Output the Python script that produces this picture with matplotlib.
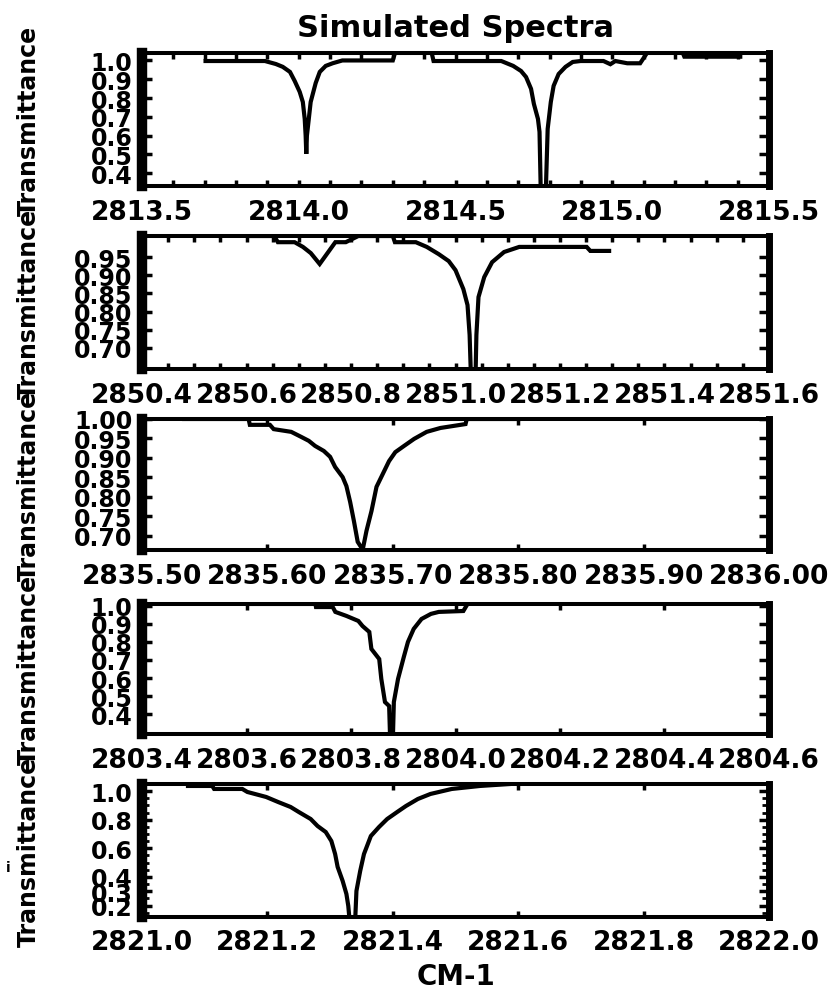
import matplotlib
matplotlib.use("Agg")
import matplotlib.pyplot as plt
from matplotlib.ticker import MultipleLocator

plt.rcParams["font.family"] = ["DejaVu Sans"]
plt.rcParams["font.weight"] = "bold"

# ---- spectrum 1 ----
wn1 = [2813.696, 2813.892, 2813.927, 2813.949, 2813.972, 2813.987, 2814.003,
       2814.013, 2814.019, 2814.022, 2814.024, 2814.026, 2814.032, 2814.038,
       2814.054, 2814.067, 2814.086, 2814.108, 2814.139, 2814.300, 2814.307,
       2814.424, 2814.430, 2814.646, 2814.684, 2814.709, 2814.725, 2814.741,
       2814.750, 2814.763, 2814.768, 2814.772, 2814.788, 2814.794, 2814.804,
       2814.813, 2814.829, 2814.851, 2814.874, 2814.899, 2814.972, 2814.994,
       2815.010, 2815.048, 2815.089, 2815.111, 2815.225, 2815.230, 2815.415]
tr1 = [0.997, 0.997, 0.981, 0.966, 0.939, 0.891, 0.833,
       0.779, 0.689, 0.600, 0.503, 0.600, 0.689, 0.779,
       0.880, 0.939, 0.971, 0.985, 1.000, 1.000, 1.040,
       1.040, 0.997, 0.997, 0.971, 0.944, 0.912, 0.849,
       0.769, 0.689, 0.620, 0.300, 0.300, 0.636, 0.779,
       0.865, 0.928, 0.966, 0.992, 0.997, 0.997, 0.980,
       0.997, 0.985, 0.985, 1.040, 1.040, 1.020, 1.020]
xticks1 = [2813.5, 2814.0, 2814.5, 2815.0, 2815.5]
yticks1 = [1.0, 0.9, 0.8, 0.7, 0.6, 0.5, 0.4]

# ---- spectrum 2 ----
wn2 = [2850.603, 2850.653, 2850.660, 2850.692, 2850.708, 2850.723, 2850.740,
       2850.755, 2850.770, 2850.790, 2850.814, 2850.880, 2850.884, 2850.924,
       2850.945, 2850.968, 2850.987, 2851.000, 2851.015, 2851.023, 2851.027,
       2851.030, 2851.038, 2851.040, 2851.044, 2851.055, 2851.070, 2851.093,
       2851.122, 2851.251, 2851.258, 2851.298]
tr2 = [1.008, 1.008, 0.991, 0.991, 0.978, 0.961, 0.931,
       0.961, 0.991, 0.991, 1.008, 1.008, 0.991, 0.991,
       0.978, 0.958, 0.939, 0.914, 0.862, 0.818, 0.736,
       0.600, 0.600, 0.736, 0.840, 0.895, 0.936, 0.964,
       0.978, 0.978, 0.967, 0.967]
xticks2 = [2850.4, 2850.6, 2850.8, 2851.0, 2851.2, 2851.4, 2851.6]
yticks2 = [0.95, 0.90, 0.85, 0.80, 0.75, 0.70]

# ---- spectrum 3 ----
wn3 = [2835.532, 2835.585, 2835.586, 2835.602, 2835.605, 2835.619, 2835.627,
       2835.633, 2835.638, 2835.645, 2835.650, 2835.654, 2835.660, 2835.663,
       2835.666, 2835.669, 2835.672, 2835.676, 2835.679, 2835.683, 2835.687,
       2835.692, 2835.697, 2835.702, 2835.709, 2835.717, 2835.727, 2835.738,
       2835.758, 2835.759, 2835.802]
tr3 = [1.000, 1.000, 0.985, 0.985, 0.974, 0.967, 0.954,
       0.944, 0.931, 0.918, 0.903, 0.877, 0.851, 0.828,
       0.787, 0.738, 0.685, 0.665, 0.713, 0.764, 0.826,
       0.859, 0.892, 0.915, 0.931, 0.949, 0.967, 0.977,
       0.987, 1.000, 1.000]
xticks3 = [2835.50, 2835.60, 2835.70, 2835.80, 2835.90, 2836.00]
yticks3 = [1.00, 0.95, 0.90, 0.85, 0.80, 0.75, 0.70]

# ---- spectrum 4 ----
wn4 = [2803.603, 2803.732, 2803.733, 2803.765, 2803.770, 2803.791, 2803.814,
       2803.822, 2803.835, 2803.839, 2803.854, 2803.858, 2803.865, 2803.873,
       2803.875, 2803.880, 2803.882, 2803.890, 2803.901, 2803.909, 2803.920,
       2803.935, 2803.953, 2803.968, 2804.015, 2804.023]
tr4 = [1.010, 1.010, 0.993, 0.993, 0.966, 0.944, 0.916,
       0.888, 0.855, 0.761, 0.705, 0.595, 0.467, 0.445,
       0.250, 0.250, 0.467, 0.595, 0.716, 0.800, 0.872,
       0.927, 0.955, 0.966, 0.971, 1.010]
xticks4 = [2803.4, 2803.6, 2803.8, 2804.0, 2804.2, 2804.4, 2804.6]
yticks4 = [1.0, 0.9, 0.8, 0.7, 0.6, 0.5, 0.4]

# ---- spectrum 5 ----
wn5 = [2821.070, 2821.112, 2821.115, 2821.160, 2821.168, 2821.198, 2821.217,
       2821.237, 2821.250, 2821.269, 2821.280, 2821.293, 2821.302, 2821.308,
       2821.312, 2821.320, 2821.326, 2821.329, 2821.331, 2821.340, 2821.342,
       2821.348, 2821.354, 2821.365, 2821.378, 2821.391, 2821.407, 2821.421,
       2821.440, 2821.460, 2821.494, 2821.539, 2821.588]
tr5 = [1.036, 1.036, 1.015, 1.015, 0.994, 0.959, 0.924,
       0.889, 0.854, 0.805, 0.756, 0.714, 0.651, 0.560,
       0.470, 0.372, 0.281, 0.197, 0.100, 0.100, 0.302,
       0.442, 0.560, 0.686, 0.749, 0.805, 0.854, 0.896,
       0.945, 0.980, 1.015, 1.036, 1.050]
xticks5 = [2821.0, 2821.2, 2821.4, 2821.6, 2821.8, 2822.0]
yticks5 = [1.0, 0.8, 0.6, 0.4, 0.3, 0.2]

title = "Simulated Spectra"
ytitle = "Transmittance"
xtitle = "CM-1"

panels = [
    dict(wn=wn1, tr=tr1, xlim=(2813.5, 2815.5), ylim=(0.33, 1.04),
         xt=xticks1, xf="{:.1f}", xminor=0.1, yt=yticks1, yf="{:.1f}", yminor=None),
    dict(wn=wn2, tr=tr2, xlim=(2850.4, 2851.6), ylim=(0.642, 1.008),
         xt=xticks2, xf="{:.1f}", xminor=0.05, yt=yticks2, yf="{:.2f}", yminor=None),
    dict(wn=wn3, tr=tr3, xlim=(2835.5, 2836.0), ylim=(0.664, 1.0),
         xt=xticks3, xf="{:.2f}", xminor=None, yt=yticks3, yf="{:.2f}", yminor=None),
    dict(wn=wn4, tr=tr4, xlim=(2803.4, 2804.6), ylim=(0.29, 1.01),
         xt=xticks4, xf="{:.1f}", xminor=None, yt=yticks4, yf="{:.1f}", yminor=None),
    dict(wn=wn5, tr=tr5, xlim=(2821.0, 2822.0), ylim=(0.12, 1.05),
         xt=xticks5, xf="{:.1f}", xminor=None, yt=yticks5, yf="{:.1f}", yminor=0.05),
]

# axes rectangles (left, bottom, width, height) in figure fraction
rects = [
    (0.1711, 0.8116, 0.7554, 0.1342),
    (0.1711, 0.6281, 0.7554, 0.1337),
    (0.1711, 0.4462, 0.7554, 0.1317),
    (0.1711, 0.2613, 0.7554, 0.1307),
    (0.1711, 0.0774, 0.7554, 0.1337),
]

fig = plt.figure(figsize=(8.3, 9.95), dpi=100)
fig.patch.set_facecolor("white")

axes = []
for p, r in zip(panels, rects):
    ax = fig.add_axes(r)
    ax.plot(p["wn"], p["tr"], color="black", lw=3.0,
            solid_joinstyle="miter", solid_capstyle="butt")
    ax.set_xlim(*p["xlim"])
    ax.set_ylim(*p["ylim"])
    ax.set_xticks(p["xt"])
    ax.set_xticklabels([p["xf"].format(v) for v in p["xt"]])
    ax.set_yticks(p["yt"])
    ax.set_yticklabels([p["yf"].format(v) for v in p["yt"]])
    if p["xminor"]:
        ax.xaxis.set_minor_locator(MultipleLocator(p["xminor"]))
    if p["yminor"]:
        ax.yaxis.set_minor_locator(MultipleLocator(p["yminor"]))
    ax.tick_params(axis="x", which="both", direction="in", top=True, bottom=True,
                   length=4, width=2.5, labelsize=19, pad=9, color="black")
    ax.tick_params(axis="y", which="major", direction="in", left=True, right=True,
                   length=7, width=2.5, labelsize=17, pad=7, color="black")
    ax.tick_params(axis="y", which="minor", direction="in", left=True, right=True,
                   length=5, width=2.0, color="black")
    for lab in ax.get_xticklabels() + ax.get_yticklabels():
        lab.set_fontweight("bold")
    ax.spines["left"].set_linewidth(7.5)
    ax.spines["right"].set_linewidth(5.0)
    ax.spines["top"].set_linewidth(2.9)
    ax.spines["bottom"].set_linewidth(2.9)
    ax.set_ylabel(ytitle, fontsize=17, fontweight="bold")
    ax.yaxis.set_label_coords(-0.162, 0.5)
    axes.append(ax)

axes[0].set_title(title, fontsize=22, fontweight="bold", pad=12)
axes[-1].set_xlabel(xtitle, fontsize=20, fontweight="bold", labelpad=5)
fig.text(0.010, 0.128, "i", fontsize=10, fontweight="bold", ha="center", va="center")

fig.savefig("out.png", dpi=100, facecolor="white")
